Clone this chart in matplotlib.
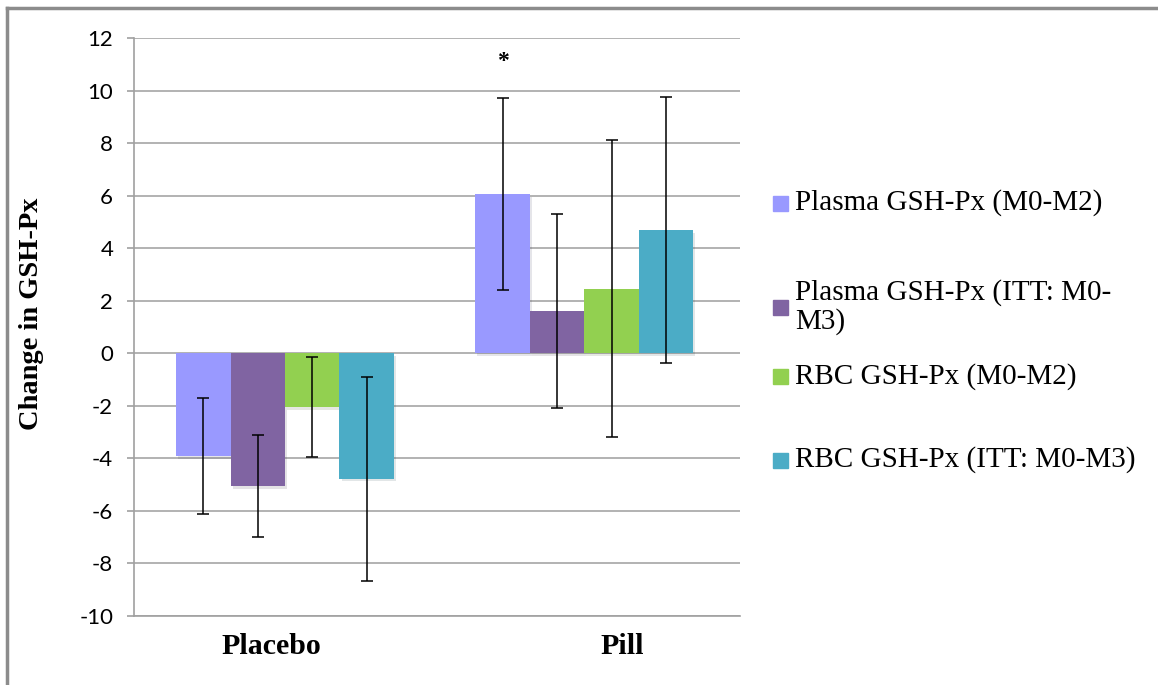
import numpy as np
import matplotlib.pyplot as plt
from matplotlib.lines import Line2D
from matplotlib.patches import Rectangle
import matplotlib.patheffects as pe

# data
groups = ['Placebo', 'Pill']
series = ['Plasma GSH-Px (M0-M2)',
          'Plasma GSH-Px (ITT: M0-\nM3)',
          'RBC GSH-Px (M0-M2)',
          'RBC GSH-Px (ITT: M0-M3)']
means = [[-3.9, 6.05],
         [-5.05, 1.6],
         [-2.05, 2.45],
         [-4.77, 4.7]]
errs = [[2.2, 3.65],
        [1.93, 3.7],
        [1.9, 5.65],
        [3.88, 5.06]]
colors = ['#9999FF', '#8064A2', '#92D050', '#4BACC6']
yticks = np.arange(-10, 13, 2)

fig = plt.figure(figsize=(11.58, 6.85), dpi=100)
ax = fig.add_axes([0.1157, 0.1007, 0.5233, 0.8438])

x = np.arange(len(groups))
w = 0.182
shadow = [pe.SimplePatchShadow(offset=(1.5, -2), alpha=0.12), pe.Normal()]
for i in range(len(series)):
    pos = x + (i - 1.5) * w
    bars = ax.bar(pos, means[i], w, color=colors[i], zorder=2)
    for b in bars:
        b.set_path_effects(shadow)
    ax.errorbar(pos, means[i], yerr=errs[i], fmt='none', ecolor='black',
                elinewidth=1.1, capsize=4.5, capthick=1.1, zorder=3)

# significance mark over the pill group
ax.text(x[1] - 1.5 * w, 11.1, '*', ha='center', va='center',
        fontsize=17, fontweight='bold', family='Liberation Serif')

ax.set_xlim(-0.5045, 1.52)
ax.set_ylim(-10, 12)
ax.set_yticks(yticks)
ax.set_yticklabels([str(t) for t in yticks], family='Lato', fontsize=16)
# category labels sit a little off the group centres in the original
label_shift = np.array([-0.047, 0.127])
ax.set_xticks(x + label_shift)
ax.set_xticklabels(groups, family='Liberation Serif', fontweight='bold', fontsize=21.5)
ax.tick_params(axis='y', length=5, width=1.2, color='#A0A0A0', pad=10)
ax.tick_params(axis='x', length=0, pad=12)
ax.yaxis.grid(True, color='#A6A6A6', linewidth=1.2, zorder=0)
ax.set_axisbelow(True)
for s in ['top', 'right']:
    ax.spines[s].set_visible(False)
for s in ['left', 'bottom']:
    ax.spines[s].set_color('#A0A0A0')
    ax.spines[s].set_linewidth(1.2)

ax.set_ylabel('Change in GSH-Px', family='Liberation Serif', fontweight='bold', fontsize=20.5)
ax.yaxis.set_label_coords(-0.149, 0.522)

# legend, laid out by hand like the Excel one
leg_y = [203, 307, 377, 460]
H, W = 685.0, 1158.0
for i, lab in enumerate(series):
    yc = 1 - leg_y[i] / H
    fig.add_artist(Rectangle((773 / W, yc - 7.5 / H), 15 / W, 15 / H,
                             transform=fig.transFigure, color=colors[i]))
    fig.text(795 / W, yc, lab, ha='left', va='center', family='Liberation Serif',
             fontsize=21, linespacing=1.1)

# outer frame (top and left edges only visible)
fig.add_artist(Line2D([7 / W, 1], [1 - 8 / H, 1 - 8 / H], transform=fig.transFigure,
                      color='#8C8C8C', linewidth=2.5))
fig.add_artist(Line2D([7 / W, 7 / W], [0, 1 - 8 / H], transform=fig.transFigure,
                      color='#8C8C8C', linewidth=2.5))

fig.savefig('out.png', dpi=100)
